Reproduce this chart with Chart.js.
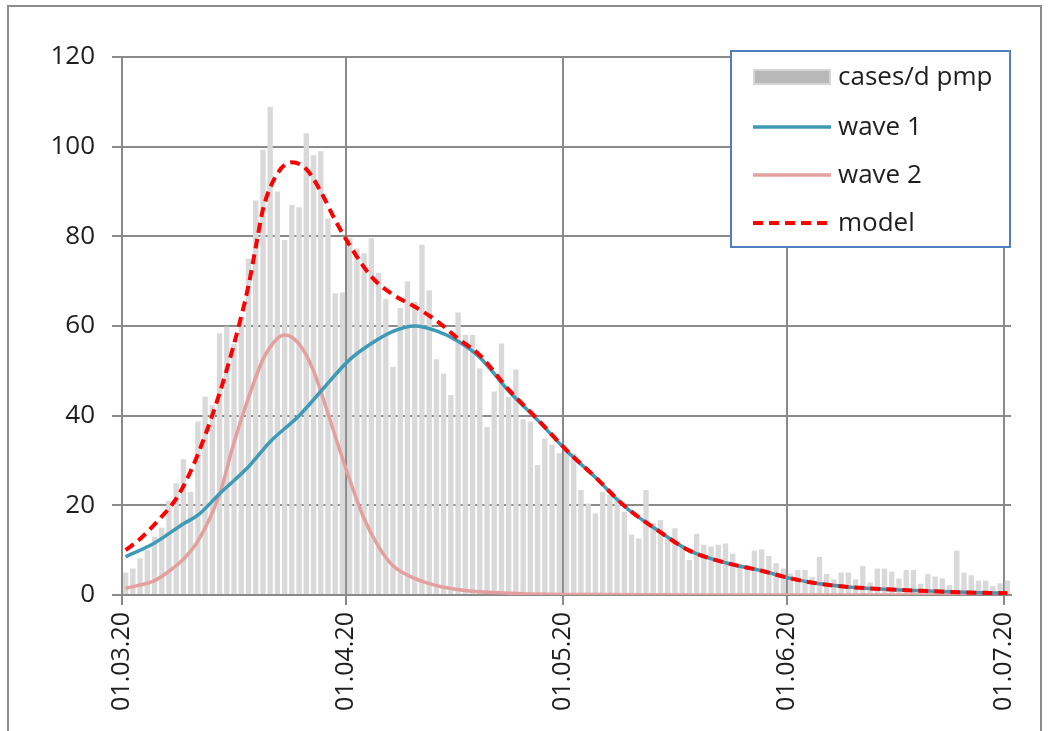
<!DOCTYPE html>
<html>
<head>
<meta charset="utf-8">
<script src="https://cdn.jsdelivr.net/npm/chart.js@4/dist/chart.umd.min.js"></script>
<style>
  html, body { margin: 0; padding: 0; background: #ffffff; }
  #wrap { position: relative; width: 1052px; height: 731px; }
  canvas { display: block; }
</style>
</head>
<body>
<div id="wrap"><canvas id="chart" width="1052" height="731"></canvas></div>
<script>
// Daily new cases per million population, 01.03.20 .. 01.07.20 (one value per day)
const casesPerDay = [
  5, 5.9, 8.2, 10, 13, 15, 21, 24.9, 30.3, 23,
  38.7, 44.2, 42.4, 58.4, 59.9, 56, 62, 75, 88, 99.3,
  108.9, 90, 79.2, 87, 86.5, 103, 98.1, 99, 84, 67.3,
  67.5, 79.6, 77.3, 76.2, 79.6, 71.8, 66, 50.9, 64, 69.9,
  65.4, 78.1, 68, 52.6, 49.4, 44.6, 63, 58, 58, 50.6,
  37.5, 45.4, 56.1, 44.2, 50.3, 39.2, 38.7, 29, 34.9, 33.5,
  31.6, 32.7, 31.6, 23.4, 20.4, 18.2, 23, 22.3, 21.9, 18.6,
  13.5, 12.6, 23.4, 16, 16.7, 12.5, 14.9, 11, 7.8, 13.6,
  11.2, 10.8, 11.2, 11.5, 9.2, 7, 6.7, 9.9, 10.2, 8.7,
  7.1, 5.9, 4.8, 5.6, 5.6, 4, 8.5, 4.7, 3.5, 5,
  5, 3.5, 6.5, 2.8, 5.9, 5.9, 5.2, 3.7, 5.6, 5.6,
  2.5, 4.7, 4.1, 3.7, 2.2, 9.9, 5, 4.4, 3.2, 3.2,
  2, 2.6, 3.2
];

// Fitted curves, sampled on selected days (day 0 = 01.03.20)
const wave1Days   = [0, 4, 8, 10, 13, 17, 20, 24, 27, 31, 34, 37, 40, 43, 46, 49, 53, 57, 61, 65, 69, 74, 78, 83, 88, 92, 96, 100, 105, 110, 114, 118, 122];
const wave1Values = [8.5, 11.6, 15.9, 17.8, 22.6, 28.6, 34.2, 40, 45.4, 52.5, 56.1, 58.8, 60, 58.9, 56.6, 53, 45.5, 39, 32.2, 26.2, 19.8, 14, 9.9, 7.2, 5.4, 3.7, 2.5, 1.8, 1.3, 0.95, 0.7, 0.5, 0.4];

const wave2Days   = [0, 4, 6, 8, 10, 13, 15, 17, 19, 21, 22, 24, 26, 28, 30, 33, 35, 37, 40, 43, 47, 49, 55, 65, 80, 100, 122];
const wave2Values = [1.5, 3.2, 5.3, 8, 12, 22.5, 34, 44, 52.5, 57.2, 58, 56, 50, 40.5, 30.5, 17, 10.8, 6.5, 3.7, 2.1, 1, 0.7, 0.3, 0.1, 0, 0, 0];

const modelDays   = [0, 2, 5, 7, 9, 11, 13, 15, 17, 18, 19, 21, 23, 25, 27, 29, 31, 34, 37, 40, 43, 46, 49, 53, 57, 61, 65, 69, 74, 78, 83, 88, 92, 96, 100, 105, 110, 114, 118, 122];
const modelValues = [10, 12.5, 17.5, 21.5, 27.6, 35.6, 45, 56, 69, 77.5, 86, 94, 96.5, 95, 90, 83.6, 78, 71, 67, 64.3, 61.2, 57.2, 53.5, 45.8, 39.2, 32.3, 26.3, 19.9, 14, 9.9, 7.2, 5.4, 3.7, 2.5, 1.8, 1.3, 0.95, 0.7, 0.5, 0.4];

// Axis ticks
const xTickDays   = [0, 31, 61, 92, 122];
const xTickLabels = ['01.03.20', '01.04.20', '01.05.20', '01.06.20', '01.07.20'];
const yTicks      = [0, 20, 40, 60, 80, 100, 120];

const seriesNames = ['cases/d pmp', 'wave 1', 'wave 2', 'model'];

const FONT = "'Open Sans', 'Liberation Sans', sans-serif";
const GRID = '#8a8a8a';
const TEXT = '#1e1e1e';

const toPoints = (days, vals) => days.map((d, i) => ({ x: d + 0.5, y: vals[i] }));

// Outer frame of the figure (left, top and right edges)
const framePlugin = {
  id: 'frame',
  beforeDraw(chart) {
    const ctx = chart.ctx;
    ctx.save();
    ctx.fillStyle = '#ffffff';
    ctx.fillRect(0, 0, chart.width, chart.height);
    ctx.strokeStyle = '#8c8c8c';
    ctx.lineWidth = 2;
    ctx.beginPath();
    ctx.moveTo(8, chart.height + 2);
    ctx.lineTo(8, 6);
    ctx.lineTo(1041, 6);
    ctx.lineTo(1041, chart.height + 2);
    ctx.stroke();
    ctx.restore();
  }
};

// Boxed legend placed in the upper right of the plot
const boxLegendPlugin = {
  id: 'boxLegend',
  afterDraw(chart) {
    const ctx = chart.ctx;
    const ds = chart.data.datasets;
    const box = { x: 731, y: 51, w: 279, h: 196 };
    ctx.save();
    ctx.fillStyle = '#ffffff';
    ctx.fillRect(box.x, box.y, box.w, box.h);
    ctx.strokeStyle = '#4f7fc0';
    ctx.lineWidth = 2;
    ctx.strokeRect(box.x, box.y, box.w, box.h);
    const rows = [77, 127, 175, 223];
    ctx.font = '26px ' + FONT;
    ctx.textBaseline = 'middle';
    ds.forEach((d, i) => {
      const y = rows[i];
      if (d.type === 'bar') {
        ctx.fillStyle = '#d6d6d6';
        ctx.fillRect(753, y - 8, 78, 16);
        ctx.fillStyle = '#b9b9b9';
        ctx.fillRect(755, y - 6, 74, 12);
      } else {
        ctx.strokeStyle = d.borderColor;
        ctx.lineWidth = d.borderWidth;
        ctx.setLineDash(d.borderDash || []);
        ctx.beginPath();
        ctx.moveTo(753, y);
        ctx.lineTo(831, y);
        ctx.stroke();
        ctx.setLineDash([]);
      }
      ctx.fillStyle = TEXT;
      ctx.fillText(d.label, 838, y + 1);
    });
    ctx.restore();
  }
};

new Chart(document.getElementById('chart'), {
  data: {
    datasets: [
      {
        type: 'bar',
        label: seriesNames[0],
        data: casesPerDay.map((v, i) => ({ x: i + 0.5, y: v })),
        backgroundColor: '#d9d9d9',
        borderWidth: 0,
        categoryPercentage: 1,
        barPercentage: 0.74,
        order: 4
      },
      {
        type: 'line',
        label: seriesNames[1],
        data: toPoints(wave1Days, wave1Values),
        borderColor: '#3f9ab5',
        borderWidth: 3.5,
        pointRadius: 0,
        cubicInterpolationMode: 'monotone',
        order: 2
      },
      {
        type: 'line',
        label: seriesNames[2],
        data: toPoints(wave2Days, wave2Values),
        borderColor: '#e3a09f',
        borderWidth: 3.5,
        pointRadius: 0,
        cubicInterpolationMode: 'monotone',
        order: 3
      },
      {
        type: 'line',
        label: seriesNames[3],
        data: toPoints(modelDays, modelValues),
        borderColor: '#ff0000',
        borderWidth: 4,
        borderDash: [10, 6],
        pointRadius: 0,
        cubicInterpolationMode: 'monotone',
        order: 1
      }
    ]
  },
  options: {
    responsive: false,
    animation: false,
    devicePixelRatio: 1,
    layout: { padding: { top: 57, right: 41, left: 0, bottom: 0 } },
    plugins: {
      legend: { display: false },
      tooltip: { enabled: false }
    },
    scales: {
      x: {
        type: 'linear',
        min: 0,
        max: 123,
        offset: false,
        afterBuildTicks(scale) {
          scale.ticks = xTickDays.map(v => ({ value: v }));
        },
        afterFit(scale) { scale.height = 136; },
        ticks: {
          autoSkip: false,
          minRotation: 90,
          maxRotation: 90,
          padding: 7,
          color: TEXT,
          font: { family: FONT, size: 25 },
          callback(value) {
            const k = xTickDays.indexOf(value);
            return k >= 0 ? xTickLabels[k] : '';
          }
        },
        grid: {
          color: GRID,
          lineWidth: 2,
          tickLength: 10,
          drawTicks: true,
          offset: false
        },
        border: { color: GRID, width: 2 }
      },
      y: {
        min: 0,
        max: 120,
        afterBuildTicks(scale) {
          scale.ticks = yTicks.map(v => ({ value: v }));
        },
        afterFit(scale) { scale.width = 122; },
        ticks: {
          padding: 17,
          color: TEXT,
          font: { family: FONT, size: 26 }
        },
        grid: {
          color: GRID,
          lineWidth: 2,
          tickLength: 10
        },
        border: { color: GRID, width: 2 }
      }
    }
  },
  plugins: [framePlugin, boxLegendPlugin]
});
</script>
</body>
</html>
